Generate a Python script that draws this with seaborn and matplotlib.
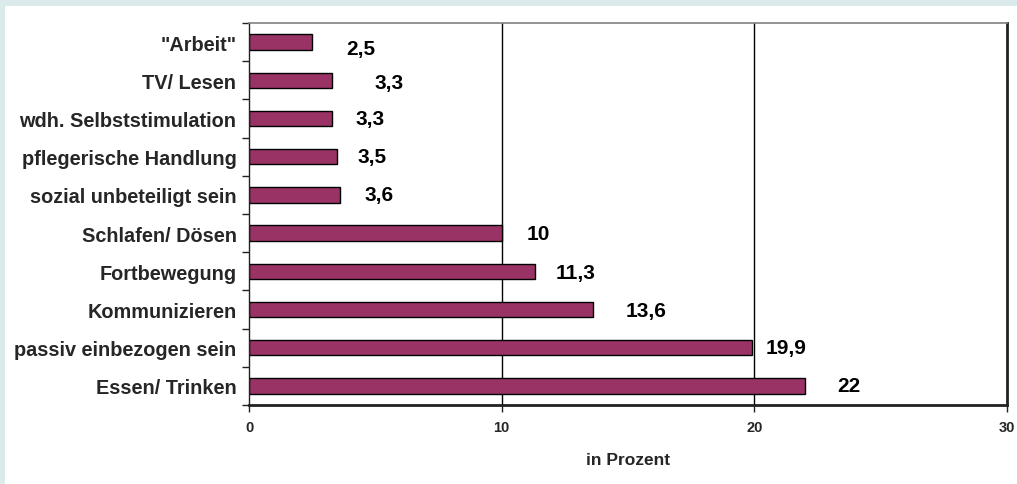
import matplotlib
matplotlib.use("Agg")
import matplotlib.pyplot as plt
from matplotlib.patches import Rectangle
from matplotlib.ticker import FixedLocator, NullFormatter
import seaborn as sns
import pandas as pd

# Activity categories (top to bottom) and their shares in percent
categories = [
    '"Arbeit"',
    "TV/ Lesen",
    "wdh. Selbststimulation",
    "pflegerische Handlung",
    "sozial unbeteiligt sein",
    "Schlafen/ Dösen",
    "Fortbewegung",
    "Kommunizieren",
    "passiv einbezogen sein",
    "Essen/ Trinken",
]
values = [2.5, 3.3, 3.3, 3.5, 3.6, 10, 11.3, 13.6, 19.9, 22]
value_labels = ["2,5", "3,3", "3,3", "3,5", "3,6", "10", "11,3", "13,6", "19,9", "22"]
x_ticks = [0, 10, 20, 30]
x_label = "in Prozent"

# label placement next to each bar end, in pixels (dx right, dy down)
label_dx = [34, 42, 23, 20, 25, 25, 21, 33, 14, 32]
label_dy = [6, 2, 0, 0, 0, 0, 1, 1, 0, 0]

BAR_COLOR = "#993366"
FONT = "Liberation Sans"

sns.set_theme(style="white")
plt.rcParams["font.family"] = [FONT, "DejaVu Sans"]
plt.rcParams["font.weight"] = "bold"

W, H, DPI = 1017, 485, 100
fig = plt.figure(figsize=(W / DPI, H / DPI), dpi=DPI)
fig.patch.set_facecolor("#dbeaea")
# white chart panel
fig.add_artist(Rectangle((5 / W, 0), 1 - 5 / W, 1 - 7 / H, transform=fig.transFigure,
                         facecolor="white", edgecolor="none", zorder=0))

ax = fig.add_axes([249 / W, 1 - 406 / H, (1007 - 249) / W, (406 - 24) / H])
ax.set_facecolor("white")

df = pd.DataFrame({"Kategorie": categories, "Prozent": values})
sns.barplot(data=df, x="Prozent", y="Kategorie", orient="h", color=BAR_COLOR,
            saturation=1, edgecolor="black", linewidth=1.0, width=0.4, ax=ax, zorder=3)

ax.set_xlim(0, 30)
ax.set_ylim(len(categories) - 0.5, -0.5)

# vertical gridlines
for gx in x_ticks[1:-1]:
    ax.axvline(gx, color="black", linewidth=1.0, zorder=1)

# spines
ax.spines["top"].set_color("#808080")
ax.spines["top"].set_linewidth(1.2)
ax.spines["right"].set_color("#222222")
ax.spines["right"].set_linewidth(2.0)
ax.spines["bottom"].set_color("#222222")
ax.spines["bottom"].set_linewidth(2.0)
ax.spines["left"].set_color("#222222")
ax.spines["left"].set_linewidth(1.0)
for s in ax.spines.values():
    s.set_visible(True)
    s.set_zorder(4)

# x axis ticks
ax.set_xticks(x_ticks)
ax.set_xticklabels([str(t) for t in x_ticks], fontsize=10.5, fontweight="bold")
ax.tick_params(axis="x", which="major", direction="out", length=5, width=1,
               color="#222222", pad=6, bottom=True)
ax.set_xlabel(x_label, fontsize=12.5, fontweight="bold", labelpad=13)

# y axis: labels centred on bars, ticks on category boundaries
ax.set_ylabel("")
ax.tick_params(axis="y", which="major", length=0, pad=9, labelsize=14.3)
for lab in ax.get_yticklabels():
    lab.set_fontweight("bold")
ax.yaxis.set_minor_locator(FixedLocator([i - 0.5 for i in range(len(categories) + 1)]))
ax.yaxis.set_minor_formatter(NullFormatter())
ax.tick_params(axis="y", which="minor", direction="out", length=5, width=1,
               color="#222222", left=True)

# value labels
for i, (v, txt) in enumerate(zip(values, value_labels)):
    ax.annotate(txt, xy=(v, i), xytext=(label_dx[i] * 0.72, -label_dy[i] * 0.72),
                textcoords="offset points", ha="left", va="center",
                fontsize=15, fontweight="bold", color="black", zorder=5)

fig.savefig("out.png", dpi=DPI, facecolor=fig.get_facecolor())
